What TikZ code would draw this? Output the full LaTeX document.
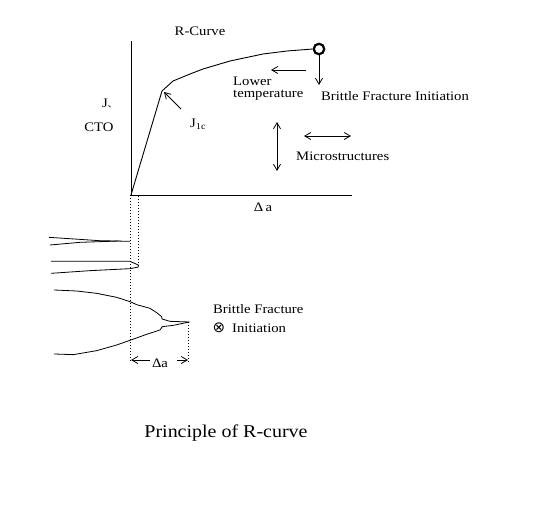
\documentclass[tikz,border=0pt]{standalone}
\usepackage{fontspec}
\setmainfont{Liberation Serif}[FakeStretch=1.13]
\newfontfamily\capfont{Liberation Serif}[FakeStretch=1.11]
\newfontfamily\symfont{DejaVu Sans}
\newfontfamily\cjkfont{Noto Sans CJK JP}
\usetikzlibrary{arrows.meta}
\tikzset{
  lbl/.style={inner sep=0pt,font=\fontsize{13}{15}\selectfont,text=black},
  lblw/.style={lbl,anchor=west},
  ln/.style={draw=black,line width=0.9pt},
  thin line/.style={draw=black,line width=0.8pt,line join=round},
  dots/.style={draw=black,line width=0.9pt,dash pattern=on 1pt off 2pt},
  barb/.style={thin line,-{Straight Barb[length=6pt,width=7pt,line width=0.8pt]}},
  dbarb/.style={thin line,{Straight Barb[length=6pt,width=7pt,line width=0.8pt]}-{Straight Barb[length=6pt,width=7pt,line width=0.8pt]}},
}
\begin{document}
\begin{tikzpicture}[x=1pt,y=-1pt]
\useasboundingbox[fill=white] (0,0) rectangle (539,512);
% axes
\coordinate (o) at (131,195);
\coordinate (ytop) at (131,41);
\coordinate (xend) at (352,195);
\draw[ln] (ytop) -- (o) -- (xend);
% R-curve
\node[circle,draw=black,line width=2.2pt,minimum size=10.5pt,inner sep=0pt] (init) at (319,49) {};
\draw[ln,line join=round] (o) -- (162,91) -- (173,81) -- (190,74) -- (203,69) -- (230,61) -- (263,54) -- (287,51) -- (init.west);
% arrows
\coordinate (j1tip) at (164,92);
\coordinate (j1tail) at (181,109);
\draw[barb] (j1tail) -- (j1tip);
\coordinate (brtip) at (319,85);
\draw[barb] (init.south) -- (brtip);
\coordinate (lt1) at (306,70);
\coordinate (lt2) at (271,70);
\draw[barb] (lt1) -- (lt2);
\coordinate (v1) at (277,122);
\coordinate (v2) at (277,171);
\draw[dbarb] (v1) -- (v2);
\coordinate (h1) at (304,136);
\coordinate (h2) at (351,136);
\draw[dbarb] (h1) -- (h2);
% dotted guides
\coordinate (d1a) at (130.5,195);
\coordinate (d1b) at (130.5,362);
\coordinate (d2a) at (138,196);
\coordinate (d2b) at (138,268);
\coordinate (d3a) at (188,322);
\coordinate (d3b) at (188,362);
\draw[dots] (d1a) -- (d1b);
\draw[dots] (d2a) -- (d2b);
\draw[dots] (d3a) -- (d3b);
% cracks
\begin{scope}[shift={(40pt,-190pt)},x=0.3333pt,y=-0.3333pt]
\draw[thin line] (27,142) -- (118,148) -- (178,152) -- (270,154);
\draw[thin line] (30,165) -- (120,157) -- (237,153);
\draw[thin line] (33,214) -- (270,214) -- (295,225) -- (295,231) -- (270,236) -- (150,242) -- (33,250);
\draw[thin line] (42,300) -- (110,303) -- (170,310) -- (230,322) -- (270,335) -- (290,344) -- (330,355) -- (350,368) -- (365,380) -- (366,387) -- (390,394) -- (448,396);
\draw[thin line] (42,492) -- (100,494) -- (170,482) -- (230,465) -- (270,451) -- (320,433) -- (360,420) -- (367,410) -- (400,406) -- (448,396);
\end{scope}
% delta a dimension
\node[lbl] (da) at (160,363) {Δa};
\coordinate (dl) at (131,360);
\coordinate (dr) at (188,360);
\coordinate (dlt) at (150,360);
\coordinate (drt) at (177,360);
\draw[barb] (dlt) -- (dl);
\draw[barb] (drt) -- (dr);
% labels
\node[lbl] (title) at (200,31) {R-Curve};
\node[lblw] (jlab) at (102,103) {J\raisebox{0pt}[0pt][0pt]{\cjkfont\fontsize{9}{9}\selectfont 、}};
\node[lbl] (cto) at (99,127.5) {CTO};
\node[lblw] (j1c) at (190,124) {J\textsubscript{1c}};
\node[lblw] (lower) at (233,81) {Lower};
\node[lblw] (temp) at (233,95) {temperature};
\node[lblw] (brit) at (321,96) {Brittle Fracture Initiation};
\node[lblw] (micro) at (296,156) {Microstructures};
\node[lbl] (dela) at (263,207) {Δ\,a};
\node[lblw] (brit2) at (213,309) {Brittle Fracture};
\node[lbl,font=\symfont\fontsize{15}{17}\selectfont] (cross) at (219,328) {⊗};
\node[lblw] (init2) at (232,328) {Initiation};
\node[lbl,font=\capfont\fontsize{18}{21}\selectfont] (cap) at (226,433) {Principle of R-curve};
\end{tikzpicture}
\end{document}
